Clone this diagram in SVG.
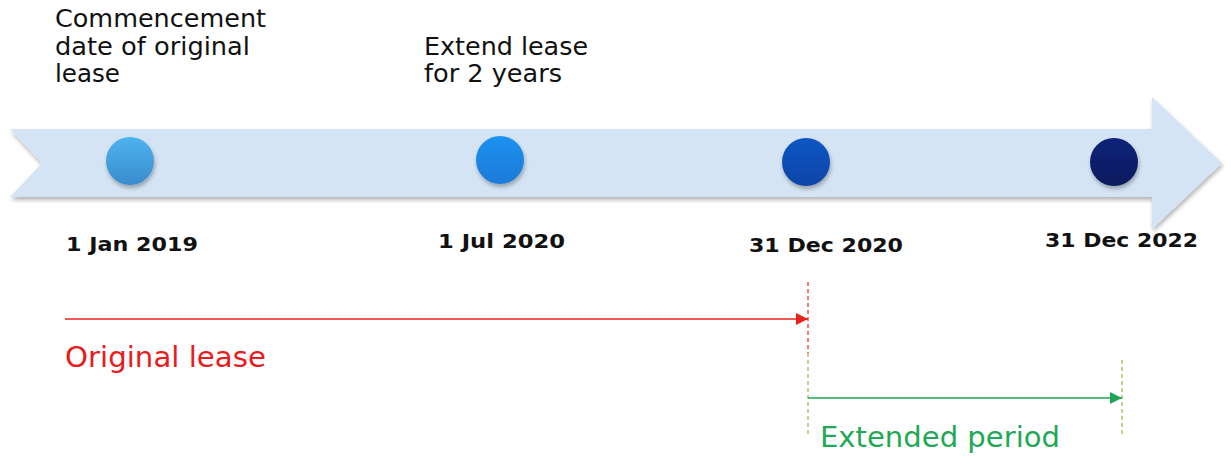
<svg xmlns="http://www.w3.org/2000/svg" width="1231" height="465" viewBox="0 0 1231 465">
<defs>
<style>
.top{font-family:"DejaVu Sans","Verdana",sans-serif;font-size:24px;fill:#111}
.date{font-family:"DejaVu Sans","Verdana",sans-serif;font-size:20px;font-weight:bold;fill:#111}
.lbl{font-family:"DejaVu Sans","Verdana",sans-serif;font-size:28px}
</style>
<filter id="sh" x="-20%" y="-20%" width="140%" height="150%">
<feGaussianBlur in="SourceAlpha" stdDeviation="2"/>
<feOffset dx="1" dy="3" result="o"/>
<feComponentTransfer><feFuncA type="linear" slope="0.3"/></feComponentTransfer>
<feMerge><feMergeNode/><feMergeNode in="SourceGraphic"/></feMerge>
</filter>
<linearGradient id="g1" x1="0" y1="0" x2="0" y2="1"><stop offset="0" stop-color="#4db3ef"/><stop offset="1" stop-color="#3a8ccc"/></linearGradient>
<linearGradient id="g2" x1="0" y1="0" x2="0" y2="1"><stop offset="0" stop-color="#1d92f0"/><stop offset="1" stop-color="#1a7ad8"/></linearGradient>
<linearGradient id="g3" x1="0" y1="0" x2="0" y2="1"><stop offset="0" stop-color="#0c56c4"/><stop offset="1" stop-color="#0b45a6"/></linearGradient>
<linearGradient id="g4" x1="0" y1="0" x2="0" y2="1"><stop offset="0" stop-color="#0b2378"/><stop offset="1" stop-color="#081a5e"/></linearGradient>
<marker id="ar" viewBox="0 0 10 10" refX="10" refY="5" markerWidth="12" markerHeight="12" markerUnits="userSpaceOnUse" orient="auto"><path d="M0,0 L10,5 L0,10 z" fill="#e8221e"/></marker>
<marker id="ag" viewBox="0 0 10 10" refX="10" refY="5" markerWidth="12" markerHeight="12" markerUnits="userSpaceOnUse" orient="auto"><path d="M0,0 L10,5 L0,10 z" fill="#1ea554"/></marker>
</defs>
<rect width="1231" height="465" fill="#ffffff"/>
<g id="timeline">
<polygon points="10,129 1152,129 1152,97 1222,163 1152,229 1152,197 10,197 42,163" fill="#d5e4f4" filter="url(#sh)"/>
</g>
<g id="node-2019">
<circle cx="130" cy="161" r="24" fill="url(#g1)" filter="url(#sh)"/>
<text class="date" x="66" y="251" textLength="132" lengthAdjust="spacingAndGlyphs">1 Jan 2019</text>
<text class="top" x="55" y="27" textLength="211" lengthAdjust="spacingAndGlyphs">Commencement</text>
<text class="top" x="55" y="55" textLength="195" lengthAdjust="spacingAndGlyphs">date of original</text>
<text class="top" x="55" y="82" textLength="65" lengthAdjust="spacingAndGlyphs">lease</text>
</g>
<g id="node-2020jul">
<circle cx="500" cy="160" r="24" fill="url(#g2)" filter="url(#sh)"/>
<text class="date" x="438" y="248" textLength="127" lengthAdjust="spacingAndGlyphs">1 Jul 2020</text>
<text class="top" x="424" y="55" textLength="164" lengthAdjust="spacingAndGlyphs">Extend lease</text>
<text class="top" x="424" y="82" textLength="138" lengthAdjust="spacingAndGlyphs">for 2 years</text>
</g>
<g id="node-2020dec">
<circle cx="806" cy="162" r="24" fill="url(#g3)" filter="url(#sh)"/>
<text class="date" x="749" y="252" textLength="154" lengthAdjust="spacingAndGlyphs">31 Dec 2020</text>
</g>
<g id="node-2022dec">
<circle cx="1114" cy="162" r="24" fill="url(#g4)" filter="url(#sh)"/>
<text class="date" x="1045" y="247" textLength="153" lengthAdjust="spacingAndGlyphs">31 Dec 2022</text>
</g>
<g id="connectors">
<line x1="808" y1="282" x2="808" y2="353" stroke="#e8221e" stroke-width="1.2" stroke-dasharray="4,3"/>
<line x1="808" y1="353" x2="808" y2="437" stroke="#a6b04a" stroke-width="1.2" stroke-dasharray="4,3"/>
<line x1="1122" y1="360" x2="1122" y2="437" stroke="#a6b04a" stroke-width="1.2" stroke-dasharray="4,3"/>
<line x1="65" y1="319" x2="808" y2="319" stroke="#e8221e" stroke-width="1.5" marker-end="url(#ar)"/>
<line x1="808" y1="398" x2="1122" y2="398" stroke="#1ea554" stroke-width="1.5" marker-end="url(#ag)"/>
</g>
<g id="labels">
<text class="lbl" x="65" y="367" fill="#e81c1c" textLength="201" lengthAdjust="spacingAndGlyphs">Original lease</text>
<text class="lbl" x="820" y="447" fill="#1fa855" textLength="240" lengthAdjust="spacingAndGlyphs">Extended period</text>
</g>
</svg>
